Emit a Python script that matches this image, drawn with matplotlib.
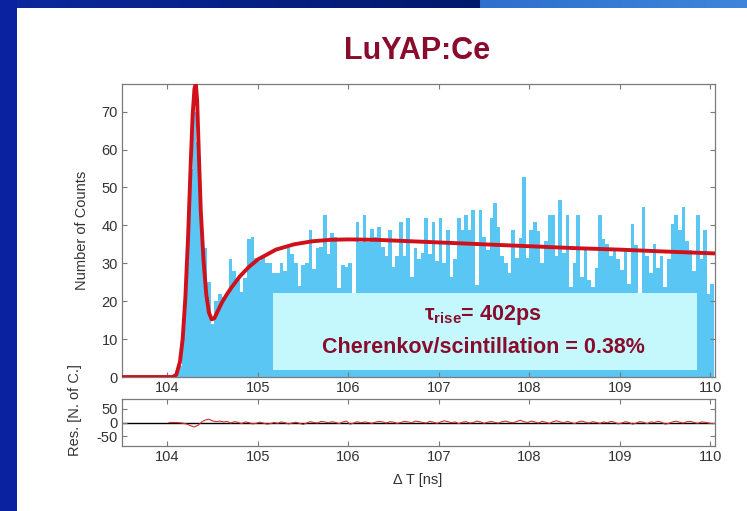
import numpy as np
import matplotlib
matplotlib.use("Agg")
import matplotlib.pyplot as plt
from matplotlib.patches import Rectangle

plt.rcParams['font.family'] = ['Liberation Sans', 'DejaVu Sans']
plt.rcParams['mathtext.fontset'] = 'custom'
plt.rcParams['mathtext.rm'] = 'Liberation Sans:bold'
plt.rcParams['mathtext.it'] = 'Liberation Sans:bold'
plt.rcParams['mathtext.bf'] = 'Liberation Sans:bold'
plt.rcParams['axes.unicode_minus'] = False

# histogram: 0.04 ns bins starting at 104.00 ns
bin_start = 104.0
bin_width = 0.04
counts = [
    0, 0, 0.5, 3, 12, 30, 55, 70, 62, 42,
    34, 25, 14, 20, 22, 21, 22, 31, 28, 25.5,
    22.5, 26, 36.5, 37, 31.5, 30.5, 32, 30, 30, 27.5,
    27.5, 30, 28, 34, 32.5, 30, 24, 29.5, 30, 38.8,
    28.5, 34, 34.3, 42.7, 32.5, 38, 37, 23.5, 29.5, 29,
    30, 18, 41, 35.5, 42.7, 35.5, 39, 37,
    39.6, 34.3, 31.8, 38.8, 29, 31.8, 41, 31.8, 42, 26.4,
    34, 31, 32.8, 42, 32.5, 41, 30.5, 42, 30, 38.8,
    26.4, 31, 42, 38.8, 42.8, 38.8, 44, 24.3, 44, 37,
    33.5, 42, 46, 39.6, 31.8, 30, 27.4, 38.8, 31.4, 36.6,
    52.8, 31.4, 38.8, 41, 38.4, 30, 36, 42.7, 42.7, 31.8,
    46.7, 32.6, 42.7, 23.7, 30, 42.7, 26.4, 33.5,
    25.6, 23.7, 28.8, 42.8, 36.4, 35, 31.8, 33.2, 31, 28.2,
    33.2, 24.6, 40.4, 34.8, 20, 44.9, 31.8, 27.4, 35, 28.8,
    31.8, 23.7, 31, 40.4, 42.8, 38.8, 44.9, 36, 33.5, 28,
    42.8, 31, 38.8, 22, 24.6,
]

# fitted model (rise + decay with Cherenkov component)
fit_t = [103.5, 104.06, 104.1, 104.14, 104.17, 104.2, 104.23, 104.26, 104.28, 104.3,
         104.315, 104.33, 104.35, 104.37, 104.4, 104.43, 104.46, 104.49, 104.52, 104.56,
         104.6, 104.65, 104.7, 104.8, 104.9, 105.0, 105.2, 105.4, 105.6, 105.8,
         106.0, 106.3, 106.6, 107.0, 107.5, 108.0, 108.5, 109.0, 109.5, 110.05]
fit_n = [0, 0, 0.6, 4, 10, 21, 37, 57, 69, 76,
         77.5, 73, 58, 44, 31, 22, 17, 15.2, 15.5, 17.5,
         19.5, 21.5, 23.3, 26.5, 29, 31, 33.6, 35, 35.8, 36.2,
         36.3, 36.2, 35.9, 35.5, 35, 34.5, 34, 33.6, 33.1, 32.6]

# residuals per bin
residuals = [
    0, 0, 0, -1, -3, -6, -12, -16, -10, 2,
    9, 12, 6, 3, 5, 2, 4, -2, 3, 1,
    -4, 2, 0, -5, -3, 1, -2, -6, -4, 0,
    -3, 2, -1, -5, -2, 1, -3, -7, -2, 3,
    0, -2, 4, 2, -1, 3, 0, -4, 2, 5,
    -6, -2, 3, -1, 2, 0, -3, 1, 4, 2,
    -2, 3, 1, -3, 0, 4, 2, -1, 5, 3,
    0, -2, 4, 1, -3, 2, 6, 3, -1, 2,
    -4, 1, 3, -2, 0, 5, 2, -3, 1, 4,
    0, -2, 3, 5, 1, -1, 4, 8, 3, 0,
    5, 2, -2, 4, 1, -3, 3, 6, 2, -1,
    4, 0, -4, 2, 5, 1, -2, 3, 0, -3,
    2, -1, 4, 1, -5, -2, 3, 0, -6, -2,
    3, 1, -4, 2, 0, 4, 1, -6, -3, 2,
    5, 1, -2, 3, 4, 0, -3, 2, 1, -2,
    -4,
]

x_ticks = [104, 105, 106, 107, 108, 109, 110]
y_ticks = [0, 10, 20, 30, 40, 50, 60, 70]
res_ticks = [-50, 0, 50]

bar_left = bin_start + bin_width * np.arange(len(counts))
res_t = bar_left + bin_width / 2

maroon = '#8a0c2c'
bar_blue = '#5ac6f4'
fit_red = '#d0101a'
tick_col = '#333333'

fig = plt.figure(figsize=(7.47, 5.11), dpi=100)
fig.patch.set_facecolor('white')

# slide frame: gradient bar along the top, solid bar on the left
W, H = 747, 511
bar_ax = fig.add_axes([0, 1 - 8 / H, 1, 8 / H])
cols = np.zeros((1, W, 3))
dark = np.array([0.05, 0.16, 0.62])
navy = np.array([0.0, 0.10, 0.42])
light = np.array([0.18, 0.44, 0.80])
lighter = np.array([0.25, 0.52, 0.86])
for i in range(W):
    if i < 480:
        f = i / 480
        cols[0, i] = dark * (1 - f) + navy * f
    else:
        f = (i - 480) / (W - 480)
        cols[0, i] = light * (1 - f) + lighter * f
bar_ax.imshow(cols, aspect='auto', extent=[0, 1, 0, 1])
bar_ax.axis('off')
fig.patches.append(Rectangle((0, 0), 17 / W, 1, transform=fig.transFigure,
                             facecolor='#0a22a0', edgecolor='none', zorder=0))

def style_axes(ax):
    for s in ax.spines.values():
        s.set_color('#7a7a7a')
        s.set_linewidth(0.9)
    ax.tick_params(direction='in', length=3.5, width=0.8, color='#7a7a7a',
                   top=True, right=True, labelsize=10.5, labelcolor=tick_col, pad=3)

# main panel
ax = fig.add_axes([122 / W, 1 - 377 / H, 593 / W, 293 / H])
ax.bar(bar_left, counts, width=bin_width, align='edge', color=bar_blue,
       linewidth=0, zorder=1)
ax.add_patch(Rectangle((105.17, 1.8), 4.68, 20.4, facecolor='#c4f8fc',
                       edgecolor='none', zorder=2))
ax.plot(fit_t, fit_n, color=fit_red, lw=2.8, zorder=3, solid_capstyle='round')
ax.set_xlim(103.5, 110.05)
ax.set_ylim(0, 77.3)
ax.set_xticks(x_ticks)
ax.set_yticks(y_ticks)
style_axes(ax)
ax.set_ylabel('Number of Counts', fontsize=10.5, color=tick_col, labelpad=9)

ax.text(107.49, 16.4, r'$\tau_{rise}$= 402ps', ha='center', va='center',
        fontsize=15.5, fontweight='bold', color=maroon, zorder=4)
ax.text(107.49, 7.7, 'Cherenkov/scintillation = 0.38%', ha='center', va='center',
        fontsize=15.5, fontweight='bold', color=maroon, zorder=4)

# residual panel
rax = fig.add_axes([122 / W, 1 - 446 / H, 593 / W, 47 / H])
rax.axhline(0, color='black', lw=1.0, zorder=1)
rax.plot(res_t, residuals, color='#d03030', lw=0.8, zorder=2)
rax.set_xlim(103.5, 110.05)
rax.set_ylim(-85, 85)
rax.set_xticks(x_ticks)
rax.set_yticks(res_ticks)
style_axes(rax)

fig.text(75 / W, 1 - 410 / H, 'Res. [N. of C.]', rotation=90, ha='center',
         va='center', fontsize=10.5, color=tick_col)
fig.text(418 / W, 1 - 480 / H, '\u0394 T [ns]', ha='center', va='center',
         fontsize=10.5, color=tick_col)

fig.text(417 / W, 1 - 51 / H, 'LuYAP:Ce', ha='center', va='center',
         fontsize=22, fontweight='bold', color=maroon)

fig.savefig('out.png', dpi=100)
